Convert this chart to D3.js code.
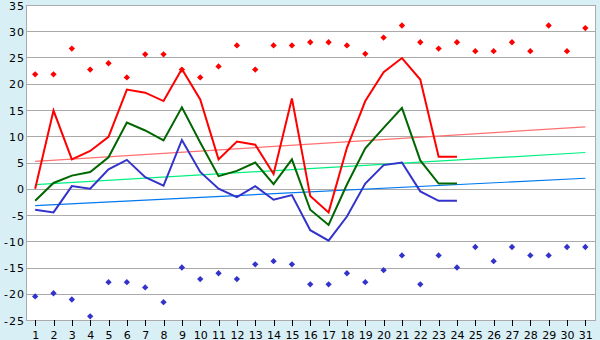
<!DOCTYPE html>
<html>
<head>
<meta charset="utf-8">
<script src="https://cdn.jsdelivr.net/npm/d3@7"></script>
<style>
  html, body { margin: 0; padding: 0; background: #d9eff6; }
  svg { display: block; }
</style>
</head>
<body>
<svg id="chart" width="600" height="340"></svg>
<script>
// ---- data ----
const days = [1,2,3,4,5,6,7,8,9,10,11,12,13,14,15,16,17,18,19,20,21,22,23,24,25,26,27,28,29,30,31];
const yTicks = [-25,-20,-15,-10,-5,0,5,10,15,20,25,30,35];
const maxT  = [0.0,14.9,5.6,7.2,9.9,18.9,18.3,16.7,22.8,17.0,5.6,9.0,8.4,2.8,17.2,-1.4,-4.5,7.8,16.7,22.2,24.9,20.8,6.1,6.1];
const meanT = [-2.3,1.1,2.5,3.2,6.0,12.6,11.1,9.2,15.5,8.8,2.4,3.4,5.0,0.9,5.6,-4.0,-6.9,0.8,7.7,11.6,15.4,5.4,1.0,1.0];
const minT  = [-4.0,-4.5,0.5,0.0,3.7,5.5,2.2,0.6,9.3,3.2,0.0,-1.6,0.5,-2.1,-1.2,-7.9,-9.9,-5.3,1.0,4.5,5.0,-0.5,-2.3,-2.3];
const recordMax = [21.8,21.8,26.7,22.7,23.9,21.2,25.6,25.6,22.7,21.2,23.3,27.3,22.7,27.3,27.3,27.9,27.9,27.3,25.7,28.8,31.1,27.9,26.7,27.9,26.2,26.2,27.9,26.2,31.1,26.2,30.6];
const recordMin = [-20.5,-19.9,-21.1,-24.3,-17.8,-17.8,-18.8,-21.6,-15.0,-17.2,-16.1,-17.2,-14.4,-13.8,-14.4,-18.2,-18.2,-16.1,-17.8,-15.5,-12.7,-18.2,-12.7,-15.0,-11.1,-13.8,-11.1,-12.7,-12.7,-11.1,-11.1];
const trendDays = [1, 31];
const trendMax  = [5.2, 11.8];
const trendMean = [0.8, 6.9];
const trendMin  = [-3.2, 2.0];

// ---- layout ----
const L = 26, R = 595, T = 5, B = 320;
const svg = d3.select("#chart");
const x = d3.scaleBand().domain(days).range([L, R - 0.5]).paddingInner(0).paddingOuter(0);
const cx = d => x(d) + x.bandwidth() / 2;
const y = d3.scaleLinear().domain([-25, 35]).range([B, T]);
const cr = v => Math.round(v) + 0.5;

// plot background
svg.append("rect").attr("x", L).attr("y", T).attr("width", R - L).attr("height", B - T).attr("fill", "#ffffff");

// gridlines
svg.append("g").selectAll("line").data(yTicks).join("line")
  .attr("x1", L).attr("x2", R)
  .attr("y1", d => cr(y(d))).attr("y2", d => cr(y(d)))
  .attr("stroke", "#aaaaaa").attr("stroke-width", 1).attr("shape-rendering", "crispEdges");

// borders
svg.append("line").attr("x1", cr(L)).attr("x2", cr(L)).attr("y1", T).attr("y2", B + 1)
  .attr("stroke", "#aaaaaa").attr("shape-rendering", "crispEdges");
svg.append("line").attr("x1", cr(R)).attr("x2", cr(R)).attr("y1", T).attr("y2", B + 1)
  .attr("stroke", "#aaaaaa").attr("shape-rendering", "crispEdges");

// y labels
svg.append("g").selectAll("text").data(yTicks).join("text")
  .attr("x", L - 1).attr("y", d => y(d) + 1)
  .attr("text-anchor", "end").attr("dominant-baseline", "central")
  .attr("font-family", "DejaVu Sans, sans-serif").attr("font-size", "11px")
  .attr("letter-spacing", "1px")
  .attr("fill", "#000").text(d => d);

// x ticks & labels
const xa = svg.append("g");
xa.selectAll("line").data(days).join("line")
  .attr("x1", d => cr(cx(d))).attr("x2", d => cr(cx(d)))
  .attr("y1", B).attr("y2", B + 6)
  .attr("stroke", "#000").attr("shape-rendering", "crispEdges");
xa.selectAll("text").data(days).join("text")
  .attr("x", d => cx(d) + 0.5).attr("y", 338.5)
  .attr("text-anchor", "middle")
  .attr("font-family", "DejaVu Sans, sans-serif").attr("font-size", "11px")
  .attr("fill", "#000").text(d => d);

// trend lines
const tline = d3.line().x((v, i) => cx(trendDays[i])).y(v => y(v));
[[trendMax, "#ff7070"], [trendMean, "#00f080"], [trendMin, "#0078f0"]].forEach(([arr, col]) => {
  svg.append("path").attr("d", tline(arr)).attr("fill", "none")
    .attr("stroke", col).attr("stroke-width", 1.2);
});

// main lines
const line = d3.line().x((v, i) => cx(days[i])).y(v => y(v));
[[maxT, "#ff0000"], [meanT, "#006600"], [minT, "#3333cc"]].forEach(([arr, col]) => {
  svg.append("path").attr("d", line(arr)).attr("fill", "none")
    .attr("stroke", col).attr("stroke-width", 2).attr("stroke-linejoin", "miter");
});

// record markers (diamonds)
const diamond = d3.symbol().type(d3.symbolSquare).size(20);
[[recordMax, "#ff0000"], [recordMin, "#3333cc"]].forEach(([arr, col]) => {
  svg.append("g").selectAll("path").data(arr).join("path")
    .attr("d", diamond)
    .attr("transform", (v, i) => `translate(${cx(days[i])},${y(v)}) rotate(45)`)
    .attr("fill", col);
});
</script>
</body>
</html>
